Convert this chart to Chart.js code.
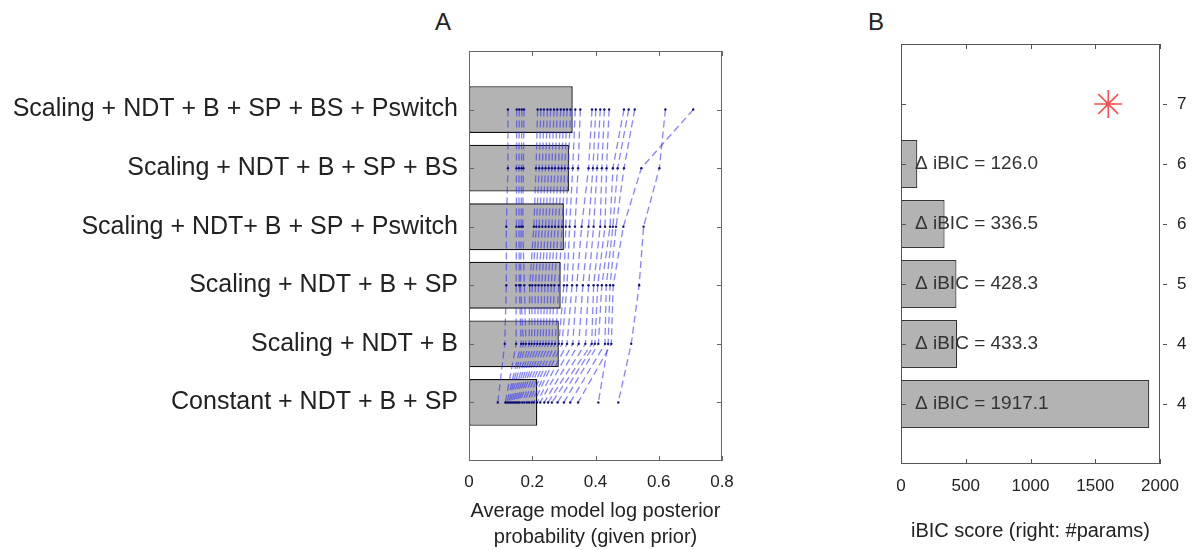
<!DOCTYPE html>
<html>
<head>
<meta charset="utf-8">
<script src="https://cdn.jsdelivr.net/npm/chart.js@4.4.1/dist/chart.umd.min.js"></script>
<style>
  body { margin: 0; background: #fff; width: 1192px; height: 550px; overflow: hidden; position: relative;
         font-family: 'Liberation Sans', Arial, sans-serif; }
  canvas { position: absolute; top: 0; }
  #chartA { left: 0; }
  #chartB { left: 760px; }
  .panel { position: absolute; top: 10px; font-size: 24px; line-height: 24px; color: #222; transform: translateX(-50%); }
</style>
</head>
<body>
<div class="panel" style="left:443px">A</div>
<div class="panel" style="left:876px">B</div>
<canvas id="chartA" width="740" height="550"></canvas>
<canvas id="chartB" width="432" height="550"></canvas>
<script>
// models, top to bottom
const modelNames = [
  'Scaling + NDT + B + SP + BS + Pswitch',
  'Scaling + NDT + B + SP + BS',
  'Scaling + NDT+ B + SP + Pswitch',
  'Scaling + NDT + B + SP',
  'Scaling + NDT + B',
  'Constant + NDT + B + SP'
];
const modelPos = [6, 5, 4, 3, 2, 1];

// panel A: average log posterior per model (bars)
const avgLogPost = [0.328, 0.316, 0.300, 0.290, 0.284, 0.216];

// panel A: per-subject values, one array per model (same subject order in each)
const postFull    = [0.123, 0.151, 0.159, 0.167, 0.174, 0.217, 0.227, 0.237, 0.248, 0.258, 0.269, 0.279, 0.290, 0.300, 0.310, 0.321, 0.336, 0.352, 0.389, 0.401, 0.415, 0.428, 0.443, 0.490, 0.505, 0.524, 0.621, 0.709];
const postBS      = [0.123, 0.150, 0.158, 0.166, 0.172, 0.212, 0.222, 0.232, 0.242, 0.252, 0.262, 0.272, 0.283, 0.293, 0.303, 0.314, 0.328, 0.345, 0.378, 0.392, 0.405, 0.420, 0.435, 0.455, 0.470, 0.490, 0.602, 0.545];
const postPswitch = [0.118, 0.150, 0.158, 0.165, 0.170, 0.205, 0.213, 0.222, 0.232, 0.242, 0.252, 0.262, 0.272, 0.283, 0.294, 0.306, 0.318, 0.335, 0.356, 0.378, 0.394, 0.415, 0.430, 0.446, 0.455, 0.465, 0.552, 0.488];
const postSP      = [0.118, 0.149, 0.159, 0.163, 0.175, 0.192, 0.200, 0.210, 0.220, 0.230, 0.240, 0.250, 0.260, 0.270, 0.284, 0.300, 0.310, 0.326, 0.341, 0.360, 0.378, 0.394, 0.407, 0.420, 0.434, 0.446, 0.538, 0.456];
const postB       = [0.113, 0.149, 0.165, 0.172, 0.180, 0.190, 0.198, 0.207, 0.216, 0.225, 0.234, 0.243, 0.252, 0.262, 0.272, 0.284, 0.294, 0.310, 0.328, 0.347, 0.368, 0.388, 0.398, 0.409, 0.430, 0.440, 0.513, 0.450];
const postConst   = [0.091, 0.115, 0.120, 0.125, 0.130, 0.135, 0.140, 0.145, 0.150, 0.155, 0.160, 0.168, 0.175, 0.183, 0.190, 0.198, 0.205, 0.215, 0.225, 0.238, 0.250, 0.262, 0.280, 0.300, 0.320, 0.409, 0.472, 0.345];
const subjPost = [postFull, postBS, postPswitch, postSP, postB, postConst];

// panel B: delta iBIC vs best model, and number of params
const deltaIBIC = [null, 126.0, 336.5, 428.3, 433.3, 1917.1];
const nParams = [7, 6, 6, 5, 4, 4];
const bestIBIC = 1600; // red star for the winning model

const xTicksA = [0, 0.2, 0.4, 0.6, 0.8];
const xTicksB = [0, 500, 1000, 1500, 2000];

const FONT = "'Liberation Sans', Arial, sans-serif";
Chart.defaults.font.family = FONT;
Chart.defaults.color = '#222';

// matlab style box with inward ticks
const boxTicks = {
  id: 'boxTicks',
  afterDraw(chart, args, opts) {
    const { ctx, chartArea: a, scales } = chart;
    const len = opts.len || 5;
    ctx.save();
    ctx.strokeStyle = opts.color || '#666';
    ctx.lineWidth = 1;
    ctx.strokeRect(Math.round(a.left) + 0.5, Math.round(a.top) + 0.5, Math.round(a.width) - 1, Math.round(a.height) - 1);
    ctx.beginPath();
    scales.x.ticks.forEach(t => {
      const px = Math.round(scales.x.getPixelForValue(t.value)) + 0.5;
      ctx.moveTo(px, a.bottom); ctx.lineTo(px, a.bottom - len);
      ctx.moveTo(px, a.top); ctx.lineTo(px, a.top + len);
    });
    scales.y.ticks.forEach(t => {
      const py = Math.round(scales.y.getPixelForValue(t.value)) + 0.5;
      ctx.moveTo(a.left, py); ctx.lineTo(a.left + len, py);
      if (opts.rightOut) {
        ctx.moveTo(a.right + 3, py); ctx.lineTo(a.right + 7, py);
      } else {
        ctx.moveTo(a.right, py); ctx.lineTo(a.right - len, py);
      }
    });
    ctx.stroke();
    ctx.restore();
  }
};

// delta iBIC text over the bars in B
const bicLabels = {
  id: 'bicLabels',
  afterDatasetsDraw(chart) {
    const { ctx, scales } = chart;
    const x0 = scales.x.getPixelForValue(0) + 14;
    ctx.save();
    ctx.font = '19px ' + FONT;
    ctx.fillStyle = '#333';
    ctx.textBaseline = 'middle';
    deltaIBIC.forEach((d, i) => {
      if (d === null) return;
      ctx.fillText('\u0394 iBIC = ' + d.toFixed(1), x0, scales.y.getPixelForValue(modelPos[i]));
    });
    ctx.restore();
  }
};

const noGrid = { display: false, drawTicks: false };
const noBorder = { display: false };
const rowTicks = s => { s.ticks = modelPos.map(v => ({ value: v })); };

// ---- panel A ----
const subjectSets = postFull.map((_, s) => ({
  type: 'line',
  data: modelPos.map((y, m) => ({ x: subjPost[m][s], y: y })),
  borderColor: 'rgba(50, 50, 255, 0.6)',
  borderWidth: 1.3,
  borderDash: [7, 4],
  pointRadius: 1.2,
  pointBackgroundColor: 'rgba(0, 0, 110, 0.9)',
  pointBorderWidth: 0,
  fill: false,
  order: 1
}));

new Chart(document.getElementById('chartA'), {
  type: 'bar',
  data: {
    datasets: [{
      type: 'bar',
      data: modelPos.map((y, i) => ({ x: avgLogPost[i], y: y })),
      backgroundColor: '#b3b3b3',
      borderColor: '#111',
      borderWidth: 1.4,
      borderSkipped: false,
      barPercentage: 1,
      categoryPercentage: 0.8,
      order: 2
    }].concat(subjectSets)
  },
  options: {
    indexAxis: 'y',
    responsive: false,
    animation: false,
    layout: { padding: { top: 51, right: 18, left: 0, bottom: 0 } },
    plugins: { legend: { display: false }, tooltip: { enabled: false }, boxTicks: { color: '#666', len: 5 } },
    scales: {
      x: {
        type: 'linear', min: 0, max: 0.8,
        afterBuildTicks: s => { s.ticks = xTicksA.map(v => ({ value: v })); },
        ticks: { font: { size: 17 }, padding: 11, color: '#222', callback: v => String(v) },
        grid: noGrid, border: noBorder,
        title: { display: true, text: ['Average model log posterior', 'probability (given prior)'],
                 font: { size: 20, lineHeight: 1.3 }, color: '#222', padding: { top: 0, bottom: 0 } },
        afterFit: s => { s.height = 89; s.paddingLeft = 0; s.paddingRight = 0; }
      },
      y: {
        type: 'linear', min: 0, max: 7, offset: false,
        afterBuildTicks: rowTicks,
        ticks: { font: { size: 25 }, padding: 11, color: '#222', autoSkip: false,
                 callback: v => modelNames[modelPos.indexOf(v)] || '' },
        grid: noGrid, border: noBorder,
        afterFit: s => { s.width = 469; s.paddingTop = 0; s.paddingBottom = 0; }
      }
    }
  },
  plugins: [boxTicks]
});

// ---- panel B ----
new Chart(document.getElementById('chartB'), {
  type: 'bar',
  data: {
    datasets: [{
      type: 'bar',
      data: modelPos.map((y, i) => ({ x: deltaIBIC[i], y: y })),
      backgroundColor: '#b3b3b3',
      borderColor: '#333',
      borderWidth: 1.2,
      borderSkipped: false,
      barPercentage: 1,
      categoryPercentage: 0.8,
      order: 2
    }, {
      type: 'scatter',
      data: [{ x: bestIBIC, y: modelPos[0] }],
      pointStyle: 'star',
      pointRadius: 14,
      borderColor: 'rgba(255, 0, 0, 0.7)',
      borderWidth: 1.5,
      backgroundColor: 'rgba(255, 0, 0, 0.7)',
      order: 1
    }]
  },
  options: {
    indexAxis: 'y',
    responsive: false,
    animation: false,
    layout: { padding: { top: 44, right: 0, left: 0, bottom: 0 } },
    plugins: { legend: { display: false }, tooltip: { enabled: false }, boxTicks: { color: '#555', len: 5, rightOut: true } },
    scales: {
      x: {
        type: 'linear', min: 0, max: 2000,
        afterBuildTicks: s => { s.ticks = xTicksB.map(v => ({ value: v })); },
        ticks: { font: { size: 17 }, padding: 12, color: '#222', callback: v => String(v) },
        grid: noGrid, border: noBorder,
        title: { display: true, text: 'iBIC score (right: #params)', font: { size: 20, lineHeight: 1.2 },
                 color: '#222', padding: { top: 0, bottom: 7 } },
        afterFit: s => { s.height = 86; s.paddingLeft = 0; s.paddingRight = 0; }
      },
      y: {
        type: 'linear', min: 0, max: 7, offset: false,
        afterBuildTicks: rowTicks,
        ticks: { display: false },
        grid: noGrid, border: noBorder,
        afterFit: s => { s.width = 141; }
      },
      y2: {
        type: 'linear', position: 'right', min: 0, max: 7, offset: false,
        afterBuildTicks: rowTicks,
        ticks: { font: { size: 17 }, padding: 17, color: '#222', autoSkip: false,
                 callback: v => String(nParams[modelPos.indexOf(v)]) },
        grid: noGrid, border: noBorder,
        afterFit: s => { s.width = 32; s.paddingTop = 0; s.paddingBottom = 0; }
      }
    }
  },
  plugins: [boxTicks, bicLabels]
});
</script>
</body>
</html>
